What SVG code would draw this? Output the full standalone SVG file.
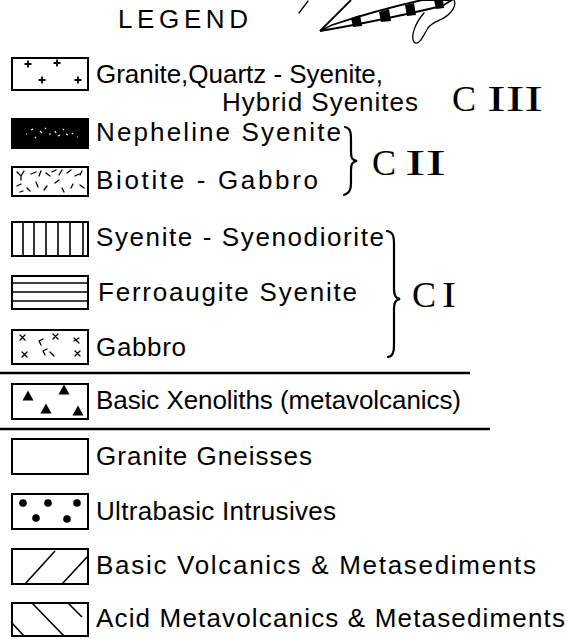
<svg xmlns="http://www.w3.org/2000/svg" width="567" height="639" viewBox="0 0 567 639">
  <defs>
    <style>
      .lbl { font-family: "Liberation Sans", "DejaVu Sans", sans-serif; font-size: 26px; fill: #000; }
      .grp { font-family: "Liberation Serif", "DejaVu Serif", serif; font-size: 36px; fill: #000; }
      .box { fill: #fff; stroke: #000; stroke-width: 2; }
      .hatch { fill: none; stroke: #000; stroke-width: 1.6; }
      .thin { fill: none; stroke: #000; stroke-width: 1.3; stroke-linecap: round; }
      .brace { fill: none; stroke: #000; stroke-width: 2.2; stroke-linecap: round; }
      .rule { stroke: #000; stroke-width: 2.6; }
    </style>
    <path id="cross" d="M-3.5,0 H3.5 M0,-3.5 V3.5" fill="none" stroke="#000" stroke-width="1.8"/>
    <path id="tri" d="M0,-5.5 L5.5,4.5 L-5.5,4.5 Z" fill="#000"/>
  </defs>

  <rect width="567" height="639" fill="#fff"/>

  <!-- heading -->
  <text x="118" y="28" class="lbl" font-size="21" textLength="130" lengthAdjust="spacing">LEGEND</text>

  <!-- small inset sketch beside the heading -->
  <g id="inset-sketch">
    <path class="thin" d="M299,13 L308,1"/>
    <path d="M320,31 L351,0" fill="none" stroke="#000" stroke-width="1.8"/>
    <path d="M320,31 C350,26 395,17 442,6 L452,0 L422,0 C395,6 362,15 332,25 Z" fill="#fff" stroke="#000" stroke-width="1.8"/>
    <path d="M351,18 L360,15 L362,26 L353,27 Z M379,12 L389,9 L391,21 L381,22 Z M405,5 L414,3 L416,15 L407,16 Z M434,0 L443,0 L444,8 L436,9 Z" fill="#000"/>
    <path class="thin" stroke-width="1.8" d="M424,13 C416,22 410,36 414,42 C419,47 424,34 428,28 C433,21 442,21 449,14 C454,9 456,4 454,0"/>
  </g>

  <!-- CIII -->
  <g id="n-granite">
    <rect class="box" x="12" y="58" width="76" height="32"/>
    <use href="#cross" x="28" y="64"/>
    <use href="#cross" x="57" y="63"/>
    <use href="#cross" x="42" y="80"/>
    <use href="#cross" x="78" y="80"/>
    <text class="lbl" x="96" y="83" font-size="25" textLength="287" lengthAdjust="spacing">Granite,Quartz - Syenite,</text>
    <text class="lbl" x="222" y="111" font-size="25" textLength="196" lengthAdjust="spacing">Hybrid  Syenites</text>
  </g>
  <text class="grp" x="452" y="111">C<tspan x="487" textLength="56" lengthAdjust="spacingAndGlyphs">III</tspan></text>

  <!-- CII -->
  <g id="n-nepheline">
    <rect x="12" y="119" width="76" height="29" fill="#000" stroke="#000" stroke-width="2"/>
    <path d="M26,134 l1,0 M31,130 l2,-1 M35,137 l1,1 M40,131 l2,2 M45,128 l1,1 M49,134 l2,0 M55,131 l1,2 M58,136 l2,-1 M63,129 l1,1 M66,134 l2,1 M72,133 l1,1 M77,137 l1,0" stroke="#fff" stroke-width="1.2" fill="none"/>
    <text class="lbl" x="96" y="141" textLength="245" lengthAdjust="spacing">Nepheline  Syenite</text>
  </g>
  <g id="n-biotite">
    <rect class="box" x="12" y="167" width="76" height="29"/>
    <path class="thin" d="M17,172 l4,4 M24,171 l-3,5 M21,176 l0,4 M31,174 l5,-2 M41,171 l-2,5 M46,173 l4,3 M52,172 l4,-2 M62,170 l-3,5 M67,173 l4,-3 M75,176 l4,-2 M82,171 l-2,4 M17,186 l4,-2 M27,188 l3,3 M36,182 l2,5 M47,186 l-3,4 M55,183 l4,-3 M62,188 l2,4 M73,184 l-2,4 M80,185 l4,3 M20,192 l3,-1"/>
    <text class="lbl" x="96" y="189" textLength="222" lengthAdjust="spacing">Biotite - Gabbro</text>
  </g>
  <path class="brace" d="M345,127 C351,128 351,134 351,140 L351,152 C351,158 352,160 357,161 C352,162 351,164 351,170 L351,182 C351,189 350,193 344,195"/>
  <text class="grp" x="372" y="175">C<tspan x="405" textLength="41" lengthAdjust="spacingAndGlyphs">II</tspan></text>

  <!-- CI -->
  <g id="n-syenite">
    <rect class="box" x="12" y="222" width="76" height="34"/>
    <path class="hatch" d="M23,222 V256 M34,222 V256 M46,222 V256 M58,222 V256 M70,222 V256 M83,222 V256"/>
    <text class="lbl" x="96" y="246" textLength="288" lengthAdjust="spacing">Syenite - Syenodiorite</text>
  </g>
  <g id="n-ferroaugite">
    <rect class="box" x="12" y="276" width="76" height="33"/>
    <path class="hatch" d="M12,283 H88 M12,292 H88 M12,301 H88"/>
    <text class="lbl" x="98" y="301" textLength="259" lengthAdjust="spacing">Ferroaugite  Syenite</text>
  </g>
  <g id="n-gabbro">
    <rect class="box" x="12" y="330" width="76" height="34"/>
    <path class="thin" stroke-width="1.6" d="M20,335 l5,5 M25,335 l-5,5 M39,341 l4,-2 M39,341 l2,4 M53,334 l5,5 M58,334 l-5,5 M74,338 l5,5 M79,338 l-5,3 M22,352 l5,5 M27,352 l-5,5 M43,351 l4,-2 M43,351 l2,4 M50,352 l4,4 M75,351 l5,5 M80,351 l-5,5"/>
    <text class="lbl" x="96" y="356" textLength="90" lengthAdjust="spacing">Gabbro</text>
  </g>
  <path class="brace" d="M387,231 C393,232 394,236 394,244 L394,288 C394,295 395,298 400,299 C395,300 394,303 394,310 L394,345 C394,352 393,356 388,357"/>
  <text class="grp" x="412" y="307">C<tspan x="442" textLength="14" lengthAdjust="spacingAndGlyphs">I</tspan></text>

  <line class="rule" x1="0" y1="373" x2="470" y2="373"/>

  <g id="n-xenoliths">
    <rect class="box" x="12" y="384" width="76" height="35"/>
    <use href="#tri" x="28" y="396"/>
    <use href="#tri" x="64" y="390"/>
    <use href="#tri" x="46" y="409"/>
    <use href="#tri" x="78" y="411"/>
    <text class="lbl" x="96" y="409" textLength="365" lengthAdjust="spacing">Basic  Xenoliths  (metavolcanics)</text>
  </g>

  <line class="rule" x1="0" y1="429" x2="490" y2="429"/>

  <g id="n-gneiss">
    <rect class="box" x="12" y="439" width="76" height="35"/>
    <text class="lbl" x="96" y="465" textLength="216" lengthAdjust="spacing">Granite  Gneisses</text>
  </g>
  <g id="n-ultrabasic">
    <rect class="box" x="12" y="494" width="76" height="35"/>
    <circle cx="23" cy="503" r="3.8"/>
    <circle cx="48" cy="503" r="3.8"/>
    <circle cx="77" cy="503" r="3.8"/>
    <circle cx="36" cy="518" r="3.8"/>
    <circle cx="67" cy="519" r="3.8"/>
    <text class="lbl" x="96" y="520" textLength="240" lengthAdjust="spacing">Ultrabasic  Intrusives</text>
  </g>
  <g id="n-basic-volcanics">
    <rect class="box" x="12" y="549" width="76" height="35"/>
    <path class="hatch" d="M25,584 L55,551 M62,584 L88,556"/>
    <text class="lbl" x="96" y="574" textLength="440" lengthAdjust="spacing">Basic  Volcanics  &amp;  Metasediments</text>
  </g>
  <g id="n-acid-metavolcanics">
    <rect class="box" x="12" y="603" width="76" height="33"/>
    <path class="hatch" d="M32,603 L64,636 M68,603 L82,617 M12,623 L24,636"/>
    <text class="lbl" x="96" y="627" textLength="469" lengthAdjust="spacing">Acid  Metavolcanics  &amp;  Metasediments</text>
  </g>
</svg>
